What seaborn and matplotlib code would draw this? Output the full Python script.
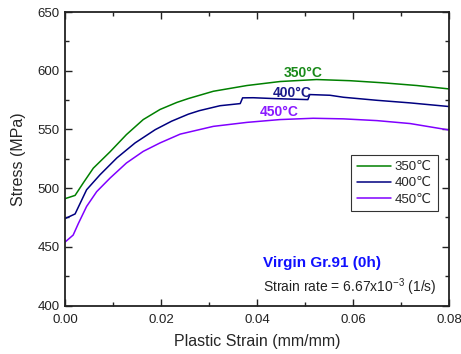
import matplotlib
matplotlib.use("Agg")
import matplotlib.pyplot as plt
import seaborn as sns
import numpy as np
import pandas as pd
from matplotlib.ticker import MultipleLocator, FormatStrFormatter
from matplotlib.lines import Line2D

# Stress-strain data
strain_350 = [0, 0.0021, 0.0038, 0.0059, 0.0094, 0.0128, 0.0163, 0.0198, 0.0233, 0.0257,
              0.0309, 0.0379, 0.0448, 0.0524, 0.0594, 0.0663, 0.0733, 0.08]
stress_350 = [491, 493.8, 504.4, 517, 531, 545.6, 558.4, 567, 573, 576.3,
              582.5, 587.4, 590.8, 592.5, 591.5, 589.7, 587.4, 584.5]

strain_400 = [0, 0.0021, 0.0045, 0.0073, 0.0108, 0.0146, 0.0188, 0.0222, 0.0257, 0.028,
              0.0323, 0.0365, 0.0370, 0.0392, 0.0434, 0.0506, 0.0510, 0.0552, 0.058,
              0.065, 0.0719, 0.08]
stress_400 = [474, 478, 498.6, 511.4, 525.7, 538.5, 549.8, 557, 563, 566,
              570.2, 572, 576.9, 577, 576.3, 575.4, 579.7, 579.1, 577.4,
              574.8, 572.6, 569.5]

strain_450 = [0, 0.0017, 0.0028, 0.0045, 0.0066, 0.0094, 0.0128, 0.0163, 0.0198, 0.024,
              0.0309, 0.0379, 0.0448, 0.0517, 0.058, 0.065, 0.0719, 0.08]
stress_450 = [454, 460, 470, 484.4, 497, 508.6, 521.4, 531.3, 538.5, 546,
              552.6, 556, 558.4, 559.5, 559, 557.5, 555, 549.5]

temps = ['350\u2103', '400\u2103', '450\u2103']
temp_labels = ['350°C', '400°C', '450°C']
colors = ['#008000', '#000080', '#8000ff']
label_colors = ['#1a8a1a', '#1a1a8a', '#8a1aff']

frames = []
for t, x, y in zip(temp_labels,
                   [strain_350, strain_400, strain_450],
                   [stress_350, stress_400, stress_450]):
    frames.append(pd.DataFrame({'Strain': x, 'Stress': y, 'Temp': t}))
df = pd.concat(frames, ignore_index=True)

sns.set_style("ticks")
plt.rcParams['font.family'] = ['Liberation Sans', 'DejaVu Sans']
plt.rcParams['mathtext.default'] = 'regular'

fig = plt.figure(figsize=(4.61, 3.54), dpi=100)
ax = fig.add_axes([0.141, 0.137, 0.833, 0.829])

sns.lineplot(data=df, x='Strain', y='Stress', hue='Temp', palette=colors,
             sort=False, linewidth=1.1, ax=ax, legend=False)

ax.set_xlim(0, 0.08)
ax.set_ylim(400, 650)
ax.xaxis.set_major_locator(MultipleLocator(0.02))
ax.xaxis.set_minor_locator(MultipleLocator(0.01))
ax.yaxis.set_major_locator(MultipleLocator(50))
ax.yaxis.set_minor_locator(MultipleLocator(25))
ax.xaxis.set_major_formatter(FormatStrFormatter('%.2f'))
ax.tick_params(which='both', direction='in', top=True, right=True,
               labelsize=9.5, color='#222222', labelcolor='#222222', width=1.0)
ax.tick_params(which='major', length=5)
ax.tick_params(axis='x', which='major', pad=6)
ax.tick_params(axis='y', which='major', pad=4)
ax.tick_params(which='minor', length=3)
for s in ax.spines.values():
    s.set_linewidth(1.3)
    s.set_color('#222222')

ax.set_xlabel('Plastic Strain (mm/mm)', fontsize=11.5, labelpad=6)
ax.set_ylabel('Stress (MPa)', fontsize=11.5, labelpad=8)

# legend with custom handles
handles = [Line2D([], [], color=c, lw=1.1) for c in colors]
leg = ax.legend(handles, temps, loc='upper right', bbox_to_anchor=(0.971, 0.513),
                frameon=True, fancybox=False, edgecolor='black',
                handlelength=2.6, handletextpad=0.3, borderpad=0.45, labelspacing=0.3,
                borderaxespad=0, prop={'family': ['Liberation Sans', 'DejaVu Sans'], 'size': 9.5})
leg.get_frame().set_linewidth(0.8)

# curve labels
label_pos = [(0.0497, 598), (0.0474, 581), (0.0446, 565)]
for (lx, ly), lab, c in zip(label_pos, temp_labels, label_colors):
    ax.text(lx, ly, lab, color=c, fontsize=10, fontweight='bold', ha='center', va='center')

ax.text(0.516, 0.145, 'Virgin Gr.91 (0h)', transform=ax.transAxes, color='#1010ff',
        fontsize=11, fontweight='bold', ha='left', va='center')
ax.text(0.516, 0.064, 'Strain rate = 6.67x10$^{-3}$ (1/s)', transform=ax.transAxes,
        color='#222222', fontsize=10, ha='left', va='center')

fig.savefig('out.png', dpi=100)
